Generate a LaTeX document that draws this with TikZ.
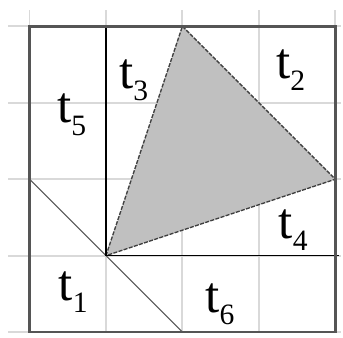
\documentclass[tikz,border=0pt]{standalone}
\usepackage{fontspec}
\setmainfont{Liberation Serif}
\usetikzlibrary{positioning}
\definecolor{gridGray}{HTML}{D9D9D9}
\definecolor{frameGray}{HTML}{555555}
\definecolor{fillGray}{HTML}{C0C0C0}
\newcommand{\tsub}[1]{t\raisebox{-4.5pt}{\fontsize{11}{11}\selectfont #1}}
\tikzset{
  tlabel/.style={anchor=base west, inner sep=0pt, font=\fontsize{19}{22}\selectfont},
  gridline/.style={gridGray, line width=0.7pt},
  edge/.style={black!75, line width=0.5pt, dash pattern=on 1.5pt off 0.5pt}
}

\begin{document}
\begin{tikzpicture}
    \useasboundingbox (-0.386,-0.075) rectangle (4.10,4.344);
    \foreach \x in {0,1,2,3,4} \draw[gridline] (\x,0) -- (\x,4.21);
    \foreach \y in {0,1,2,3,4} \draw[gridline] (-0.28,\y) -- (4.08,\y);
    \coordinate (c) at (1,1);
    \coordinate (top) at (2,4);
    \coordinate (right) at (4,2);
    \coordinate (left) at (0,2);
    \coordinate (bottom) at (2,0);
    \fill[fillGray] (c) -- (top) -- (right) -- cycle;
    \draw[edge] (c) -- (top) -- (right) -- cycle;
    \draw[frameGray, line width=0.4pt] (left) -- (c) -- (bottom);
    \draw[black, line width=0.55pt] (1,4) -- (c) -- (4.05,1);
    \draw[frameGray, line width=0.9pt] (0,0) rectangle (4,4);
    \node[tlabel] (t5) at (0.355,2.736) {\tsub{5}};
    \node[tlabel] (t3) at (1.166,3.19) {\tsub{3}};
    \node[tlabel] (t2) at (3.218,3.32) {\tsub{2}};
    \node[tlabel] (t4) at (3.252,1.229) {\tsub{4}};
    \node[tlabel] (t1) at (0.376,0.409) {\tsub{1}};
    \node[tlabel] (t6) at (2.294,0.252) {\tsub{6}};
  \end{tikzpicture}
\end{document}
